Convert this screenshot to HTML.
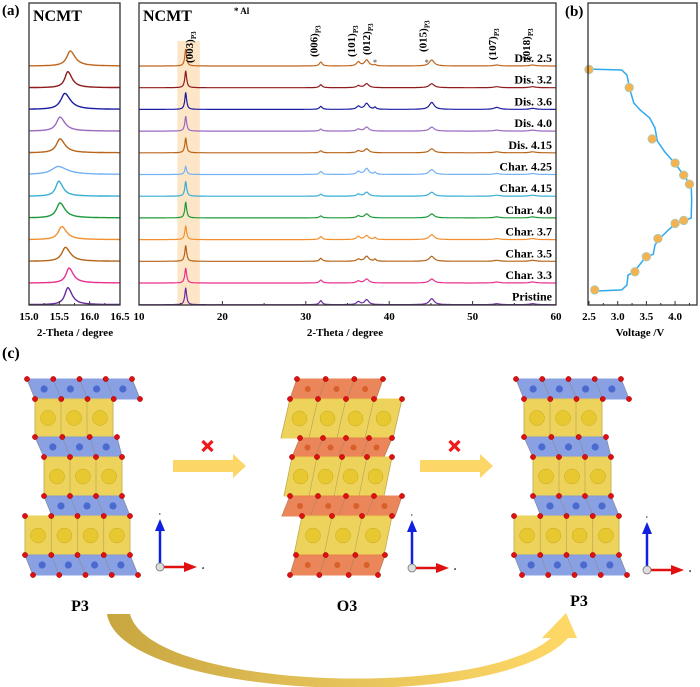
<!DOCTYPE html>
<html><head><meta charset="utf-8">
<style>
html,body{margin:0;padding:0;background:#fff;}
svg{display:block;font-family:"Liberation Serif",serif;font-weight:bold;}
</style></head>
<body>
<svg id="fig" width="700" height="687" viewBox="0 0 700 687" xmlns="http://www.w3.org/2000/svg">
<defs>
<linearGradient id="curveGrad" x1="0" x2="1" y1="0" y2="0">
<stop offset="0" stop-color="#c8a640"/><stop offset="0.5" stop-color="#e6c35a"/><stop offset="1" stop-color="#ffd966"/>
</linearGradient>
</defs>
<g id="panelA"></g>
<g id="panelB"></g>
<g id="panelC"></g>
</svg>
<script>
// ---------- DATA ----------
const traceLabels = ["Dis. 2.5","Dis. 3.2","Dis. 3.6","Dis. 4.0","Dis. 4.15","Char. 4.25","Char. 4.15","Char. 4.0","Char. 3.7","Char. 3.5","Char. 3.3","Pristine"];
const traceColors = ["#c0651c","#8e1c1c","#1c1ca2","#9a6ac0","#b8651c","#74b2f2","#38aed6","#1e9a3a","#f29030","#b46418","#e8308e","#6a2c9e"];
const zoomPeakPos = [15.68,15.64,15.59,15.51,15.51,15.48,15.49,15.51,15.54,15.60,15.66,15.64];
const zoomPeakHeight = [15,16,16,14,14,8,15,15,13,14,15,17];
const zoomPeakWidth = [0.07,0.06,0.08,0.07,0.07,0.13,0.06,0.07,0.07,0.07,0.06,0.06];
const peakPos = [15.6,31.8,36.3,37.3,38.3,45.1,52.9,57.2];
const h003 = [17,17,17,15,15,8,15,16,14,16,15,17];
const h006 = [4,3,3,2,2,3,2,2,3,3,3,4];
const h101 = [4,2,3,2,2,3,2,2,3,2,2,3];
const h012 = [6,4,6,4,4,6,4,4,4,5,4,5];
const hAl  = [1,0,2,0,0,2,0,0,2,2,0,0];
const h015 = [6,4,7,4,4,5,4,4,5,5,4,6];
const h107 = [1,1,2,1,1,1,1,1,1,1,1,1];
const h018 = [1,1,1,1,1,1,1,1,1,1,1,1];
const xTicksZoom = [15.0,15.5,16.0,16.5];
const xTicksWide = [10,20,30,40,50,60];
const hklLabels = ["(003)","(006)","(101)","(012)","(015)","(107)","(018)"];
const hklPos = [16.0,30.9,35.4,37.2,44.0,52.3,56.4];
const pointVolt = [2.5,3.2,3.6,4.0,4.15,4.25,4.15,4.0,3.7,3.5,3.3,2.6];
const pointCap = [78,72,55,47,43,40,28,27,22,16,11,5];
const curveVolt = [2.53,3.07,3.16,3.21,3.28,3.39,3.56,3.65,3.69,3.82,4.02,4.17,4.28,4.29,4.28,4.19,4.03,3.88,3.74,3.65,3.62,3.49,3.28,3.18,3.16,3.07,2.60];
const curveCap  = [78.1,77.8,76.2,71.5,66.9,64.6,61.9,58.6,54.3,50.7,46.4,42.4,39.4,34.8,28.8,28.1,27.2,24.8,22.2,19.9,16.8,15.9,10.9,9.9,6.6,5.0,4.6];
const xTicksVolt = [2.5,3.0,3.5,4.0];

// ---------- HELPERS ----------
const NS="http://www.w3.org/2000/svg";
function mk(tag,attrs,parent){const e=document.createElementNS(NS,tag);for(const k in attrs)e.setAttribute(k,attrs[k]);parent.appendChild(e);return e;}
const A=document.getElementById('panelA'),B=document.getElementById('panelB'),C=document.getElementById('panelC');

const topY=3,bot=305;
const zx=v=>29+(v-15)*(91/1.5);
const wx=v=>139+(v-10)*(417/50);
const vx=v=>589+(v-2.5)*57.4;
const capY=c=>305-c*3.02;
const baseY=i=>66+i*21.7;
const lor=(x,x0,w)=>1/(1+((x-x0)/w)**2);

// ---------- PANEL A ----------
let t=mk('text',{x:2,y:15,'font-size':15},A);t.textContent='(a)';

let hb=mk('rect',{x:wx(14.6),y:41,width:wx(17.3)-wx(14.6),height:bot-41,fill:'#fde2bd',opacity:0.85},A);


for(let i=0;i<12;i++){
  let pts=[];
  for(let x=15.0;x<=16.5001;x+=0.01){
    const w=zoomPeakWidth[i]*(x>zoomPeakPos[i]?1.4:1);
    const y=baseY(i)-zoomPeakHeight[i]*lor(x,zoomPeakPos[i],w);
    pts.push(zx(x).toFixed(1)+','+y.toFixed(1));
  }
  let p=mk('polyline',{points:pts.join(' '),fill:'none',stroke:traceColors[i],'stroke-width':1.4},A);
  
  
  const hs=[h003[i],h006[i],h101[i],h012[i],hAl[i],h015[i],h107[i],h018[i]];
  const ws=[0.13,0.2,0.25,0.3,0.15,0.35,0.4,0.4];
  pts=[];
  for(let x=10;x<=60.0001;x+=0.05){
    let y=baseY(i);
    for(let k=0;k<peakPos.length;k++)y-=hs[k]*lor(x,peakPos[k],ws[k]);
    pts.push(wx(x).toFixed(1)+','+y.toFixed(1));
  }
  p=mk('polyline',{points:pts.join(' '),fill:'none',stroke:traceColors[i],'stroke-width':1.2},A);
  
  
  t=mk('text',{x:552,y:baseY(i)-4,'font-size':12,'text-anchor':'end'},A);
  t.textContent=traceLabels[i];
  
  
}
let f=mk('rect',{x:29,y:topY,width:91,height:bot-topY,fill:'none',stroke:'#333','stroke-width':1.3},A);

f=mk('rect',{x:139,y:topY,width:417,height:bot-topY,fill:'none',stroke:'#333','stroke-width':1.3},A);

for(let v=15.0;v<=16.5001;v+=0.25){const major=Math.abs(v*2-Math.round(v*2))<1e-6;mk('line',{x1:zx(v),x2:zx(v),y1:bot,y2:bot-(major?4:2),stroke:'#333'},A);}
xTicksZoom.forEach(v=>{t=mk('text',{x:zx(v),y:320,'font-size':11,'text-anchor':'middle'},A);t.textContent=v.toFixed(1);
});
for(let v=10;v<=60;v+=5){mk('line',{x1:wx(v),x2:wx(v),y1:bot,y2:bot-(v%10==0?4:2),stroke:'#333'},A);}
xTicksWide.forEach(v=>{t=mk('text',{x:wx(v),y:320,'font-size':11,'text-anchor':'middle'},A);t.textContent=v;
});
t=mk('text',{x:75,y:336,'font-size':11,'text-anchor':'middle'},A);t.textContent='2-Theta / degree';

t=mk('text',{x:345,y:336,'font-size':11,'text-anchor':'middle'},A);t.textContent='2-Theta / degree';

t=mk('text',{x:33,y:21,'font-size':16},A);t.textContent='NCMT';

t=mk('text',{x:143,y:21,'font-size':16},A);t.textContent='NCMT';

t=mk('text',{x:234,y:14,'font-size':9},A);t.textContent='* Al';

const hklBottom=[63,57,57,55,52,60,60];
hklLabels.forEach((s,k)=>{
  const x=wx(hklPos[k])+4,y=hklBottom[k];
  t=mk('text',{x:x,y:y,'font-size':11,transform:`rotate(-90 ${x} ${y})`},A);
  t.textContent=s;
  const sub=mk('tspan',{'font-size':7,dy:3},t);sub.textContent='P3';
  
});
[[38.3,0],[44.5,0]].forEach(a=>{t=mk('text',{x:wx(a[0]),y:baseY(a[1])-1,'font-size':8,fill:'#666','text-anchor':'middle'},A);t.textContent='*';
});

// ---------- PANEL B ----------
t=mk('text',{x:565,y:16,'font-size':15},B);t.textContent='(b)';

const cpts=curveVolt.map((v,k)=>vx(v).toFixed(1)+','+capY(curveCap[k]).toFixed(1)).join(' ');
let cl=mk('polyline',{points:cpts,fill:'none',stroke:'#2fa8ee','stroke-width':1.5,'stroke-linejoin':'round'},B);

pointVolt.forEach((v,k)=>{
  const c=mk('circle',{cx:vx(v),cy:capY(pointCap[k]),r:4.3,fill:'#f4b350',stroke:'#9fd0c8','stroke-width':0.7},B);
  
  
});
f=mk('rect',{x:588,y:topY,width:109,height:bot-topY,fill:'none',stroke:'#333','stroke-width':1.3},B);

for(let v=2.5;v<=4.3;v+=0.25){const major=Math.abs(v*2-Math.round(v*2))<1e-6;mk('line',{x1:vx(v),x2:vx(v),y1:bot,y2:bot-(major?4:2),stroke:'#333'},B);}
xTicksVolt.forEach(v=>{t=mk('text',{x:vx(v),y:320,'font-size':11,'text-anchor':'middle'},B);t.textContent=v.toFixed(1);
});
t=mk('text',{x:640,y:336,'font-size':11,'text-anchor':'middle'},B);t.textContent='Voltage /V';


// ---------- PANEL C ----------
t=mk('text',{x:2,y:358,'font-size':16},C);t.textContent='(c)';


function layer(g,y0,y1,a,b,c,d,type){
  const fill={blue:'#7d96df',yellow:'#eccf4a',orange:'#e87a48'}[type];
  mk('polygon',{points:`${a},${y0} ${b},${y0} ${d},${y1} ${c},${y1}`,fill:fill,opacity:0.9,stroke:fill},g);
  const n=Math.round((b-a)/26);
  for(let k=0;k<=n;k++){
    const xt=a+(b-a)*k/n, xb=c+(d-c)*k/n;
    mk('line',{x1:xt,y1:y0,x2:xb,y2:y1,stroke:'#8a8060','stroke-width':0.6,opacity:0.6},g);
  }
  const my=(y0+y1)/2;
  for(let k=0;k<n;k++){
    const xm=((a+c)/2)+(((b+d)/2)-((a+c)/2))*(k+0.5)/n;
    if(type==='yellow'){
      mk('circle',{cx:xm,cy:my,r:7.5,fill:'#e8c830',stroke:'#c8a820','stroke-width':0.5},g);
    }else{
      mk('circle',{cx:xm,cy:my,r:type==='blue'?3.6:3,fill:type==='blue'?'#4a6ad0':'#d8602a'},g);
    }
  }
}
function dots(g,y,a,b){
  const n=Math.round((b-a)/26);
  for(let k=0;k<=n;k++)mk('circle',{cx:a+(b-a)*k/n,cy:y,r:2.6,fill:'#e01010',stroke:'#900','stroke-width':0.5},g);
}
function p3(ox,name){
  const g=mk('g',{transform:`translate(${ox},0)`},C);
  
  layer(g,379,399,27,132,35,140,'blue');
  layer(g,399,437,35,113,35,113,'yellow');
  layer(g,437,457,35,117,44,122,'blue');
  layer(g,457,496,44,122,44,122,'yellow');
  layer(g,496,516,44,122,52,130,'blue');
  layer(g,516,555,25,130,25,130,'yellow');
  layer(g,555,575,25,130,33,138,'blue');
  dots(g,379,27,132);dots(g,399,35,140);dots(g,437,35,117);dots(g,457,44,122);
  dots(g,496,44,122);dots(g,516,25,130);dots(g,555,25,130);dots(g,575,33,138);
}
function o3(){
  const g=mk('g',{},C);
  
  const L=[[379,399,297,383,290,376,'orange'],[399,438,290,402,281,393,'yellow'],[438,457,300,392,292,384,'orange'],
   [457,496,292,392,284,384,'yellow'],[496,516,290,402,282,395,'orange'],[516,555,302,392,294,384,'yellow'],[555,575,296,385,290,378,'orange']];
  L.forEach(l=>layer(g,...l));
  L.forEach(l=>{dots(g,l[0],l[2],l[3]);});
  dots(g,575,290,378);
}
function axes(x,y,name){
  const g=mk('g',{},C);
  
  mk('line',{x1:x,y1:y,x2:x,y2:y-38,stroke:'#1020e0','stroke-width':2.5},g);
  mk('polygon',{points:`${x-5},${y-36} ${x+5},${y-36} ${x},${y-48}`,fill:'#1020e0'},g);
  mk('line',{x1:x,y1:y,x2:x+26,y2:y,stroke:'#e01010','stroke-width':2.5},g);
  mk('polygon',{points:`${x+24},${y-5} ${x+24},${y+5} ${x+37},${y}`,fill:'#e01010'},g);
  mk('circle',{cx:x,cy:y,r:4,fill:'#ddd',stroke:'#777','stroke-width':0.8},g);
  let s=mk('text',{x:x,y:y-52,'font-size':4,'text-anchor':'middle'},g);s.textContent='c';
  s=mk('text',{x:x+42,y:y+2,'font-size':4},g);s.textContent='a';
}
function arrow(x0,x1,y,name){
  const g=mk('g',{},C);
  
  mk('polygon',{points:`${x0},${y-6} ${x1-13},${y-6} ${x1-13},${y-12} ${x1},${y} ${x1-13},${y+12} ${x1-13},${y+6} ${x0},${y+6}`,fill:'#fcd667'},g);
  const mx=(x0+x1)/2-2,my=y-20;
  mk('path',{d:`M${mx-5},${my-5} L${mx+5},${my+5} M${mx+5},${my-5} L${mx-5},${my+5}`,stroke:'#f01818','stroke-width':3.2},g);
}
p3(0,'p3-structure-left');
o3();
p3(489,'p3-structure-right');
axes(160,567,'axes-left');axes(412,568,'axes-middle');axes(647,570,'axes-right');
arrow(173,246,466,'blocked-arrow-1');
arrow(420,493,466,'blocked-arrow-2');
[['P3',80,611],['O3',347,611],['P3',579,606]].forEach(l=>{t=mk('text',{x:l[1],y:l[2],'font-size':16,'text-anchor':'middle'},C);t.textContent=l[0];
});
let ca=mk('path',{d:'M107,614 L130,614 C150,690 480,700 551,638 L542,638 L566,613 L577,638 L568,638 C500,715 120,700 107,614 Z',fill:'url(#curveGrad)'},C);

</script>
</body></html>
